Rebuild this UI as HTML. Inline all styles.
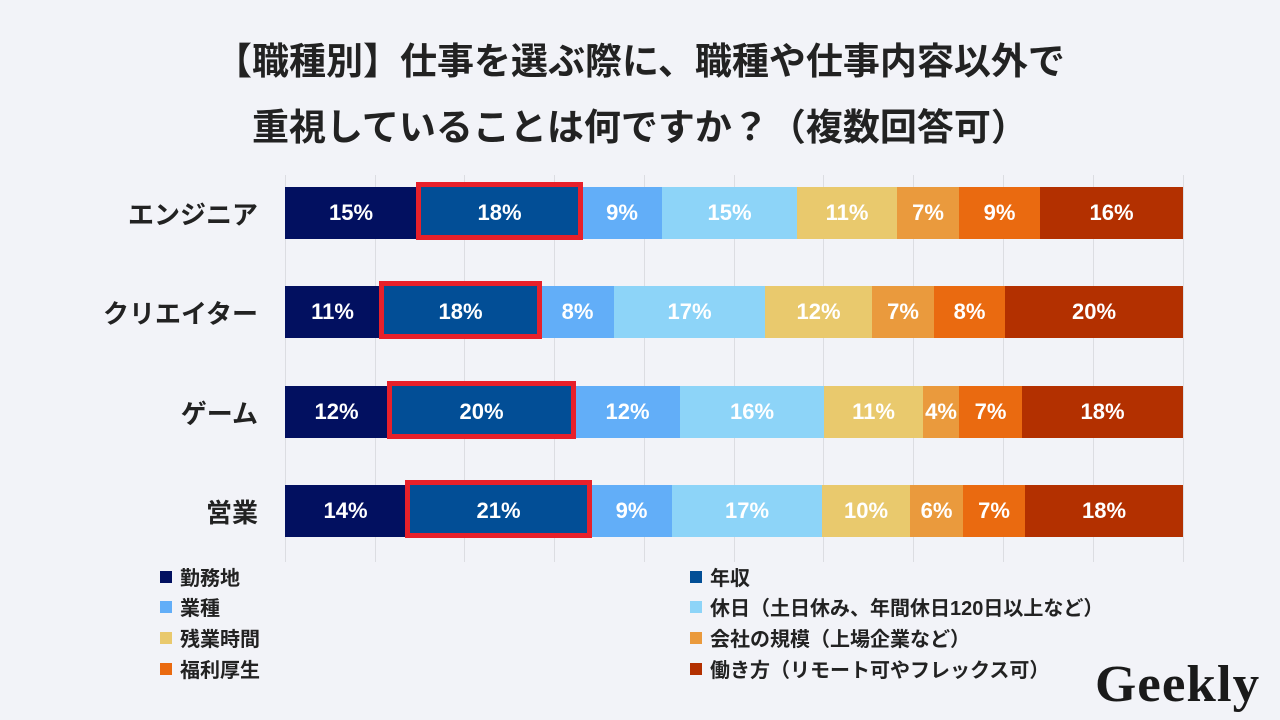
<!DOCTYPE html><html><head><meta charset="utf-8"><style>
body{margin:0;width:1280px;height:720px;background:#f2f3f8;position:relative;overflow:hidden;font-family:"Liberation Sans","Noto Sans CJK JP",sans-serif;}
.t{position:absolute;left:0;width:1280px;text-align:center;font-size:37px;font-weight:bold;color:#222;line-height:44px;}
.g{position:absolute;top:175px;height:387px;width:1px;background:#dcdde2;}
.s{position:absolute;height:52px;color:#fff;font-size:22px;font-weight:bold;display:flex;align-items:center;justify-content:center;}
.lab{position:absolute;right:1022px;font-size:26px;font-weight:bold;color:#222;height:52px;display:flex;align-items:center;}
.box{position:absolute;border:5px solid #e8202a;box-sizing:border-box;}
.lg{position:absolute;font-size:20px;font-weight:bold;color:#222;display:flex;align-items:center;}
.lg i{display:inline-block;width:12px;height:12px;margin-right:8px;}
</style></head><body>
<div class="t" style="top:40px">【職種別】仕事を選ぶ際に、職種や仕事内容以外で</div>
<div class="t" style="top:106px">重視していることは何ですか？（複数回答可）</div>
<div class="g" style="left:285px"></div><div class="g" style="left:375px"></div><div class="g" style="left:464px"></div><div class="g" style="left:554px"></div><div class="g" style="left:644px"></div><div class="g" style="left:734px"></div><div class="g" style="left:823px"></div><div class="g" style="left:913px"></div><div class="g" style="left:1003px"></div><div class="g" style="left:1093px"></div><div class="g" style="left:1183px"></div>
<div id="bars"></div>
<script>
var cols=["#021060","#024e96","#62aef8","#8dd4f8","#e9c96d","#ea9a3d","#ea6a10","#b33000"];
var rows=[
["エンジニア",187,[285,417,582,662,797,897,959,1040,1183],["15%","18%","9%","15%","11%","7%","9%","16%"]],
["クリエイター",286,[285,380,541,614,765,872,934,1005,1183],["11%","18%","8%","17%","12%","7%","8%","20%"]],
["ゲーム",386,[285,388,575,680,824,923,959,1022,1183],["12%","20%","12%","16%","11%","4%","7%","18%"]],
["営業",485,[285,406,591,672,822,910,963,1025,1183],["14%","21%","9%","17%","10%","6%","7%","18%"]]];
var h="";
rows.forEach(function(r){
h+='<div class="lab" style="top:'+r[1]+'px">'+r[0]+'</div>';
for(var i=0;i<8;i++){h+='<div class="s" style="top:'+r[1]+'px;left:'+r[2][i]+'px;width:'+(r[2][i+1]-r[2][i])+'px;background:'+cols[i]+'">'+r[3][i]+'</div>';}
h+='<div class="box" style="left:'+(r[2][1]-1)+'px;top:'+(r[1]-5)+'px;width:'+(r[2][2]-r[2][1]+2)+'px;height:58px"></div>';
});
document.getElementById("bars").innerHTML=h;
</script>
<div class="lg" style="left:160px;top:562px"><i style="background:#021060"></i>勤務地</div>
<div class="lg" style="left:160px;top:592px"><i style="background:#62aef8"></i>業種</div>
<div class="lg" style="left:160px;top:623px"><i style="background:#e9c96d"></i>残業時間</div>
<div class="lg" style="left:160px;top:654px"><i style="background:#ea6a10"></i>福利厚生</div>
<div class="lg" style="left:690px;top:562px"><i style="background:#024e96"></i>年収</div>
<div class="lg" style="left:690px;top:592px"><i style="background:#8dd4f8"></i>休日（土日休み、年間休日120日以上など）</div>
<div class="lg" style="left:690px;top:623px"><i style="background:#ea9a3d"></i>会社の規模（上場企業など）</div>
<div class="lg" style="left:690px;top:654px"><i style="background:#b33000"></i>働き方（リモート可やフレックス可）</div>
<div style="position:absolute;left:1095px;top:655px;font-family:'Liberation Serif',serif;font-weight:bold;font-size:52px;color:#1a1a1a;letter-spacing:1px;transform:scaleX(1.02);transform-origin:left top">Geekly</div>
</body></html>
